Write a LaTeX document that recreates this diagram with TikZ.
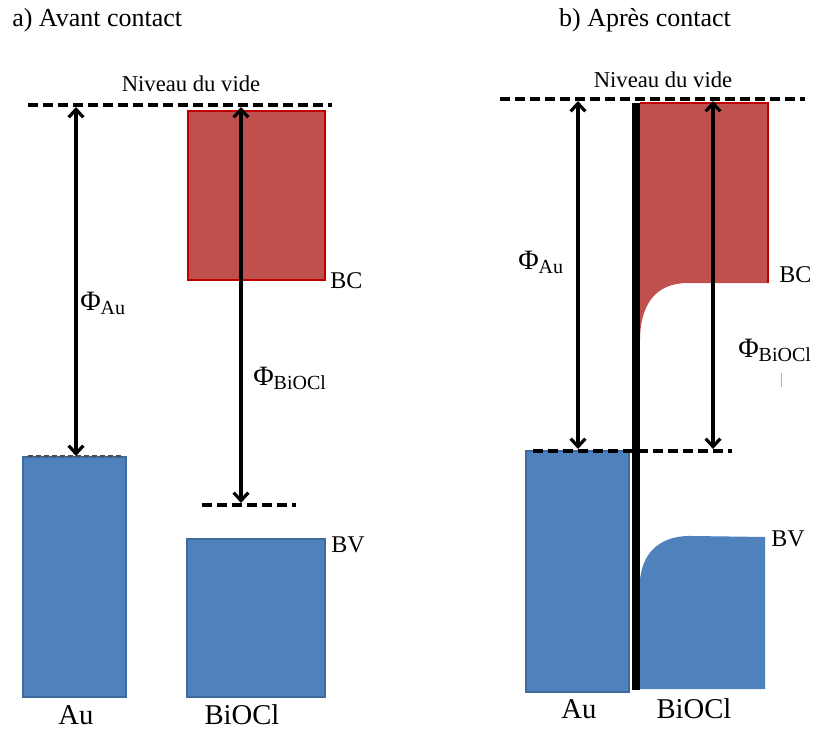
\documentclass[tikz,border=0pt]{standalone}
\usepackage{fontspec}
\setmainfont{Liberation Serif}
\usetikzlibrary{arrows.meta}
\definecolor{bcred}{HTML}{C0504D}
\definecolor{bcedge}{HTML}{C00000}
\definecolor{bvblue}{HTML}{4F81BD}
\definecolor{bvedge}{HTML}{3F6A9E}
\newcommand{\phisub}[1]{{\fontsize{21}{21}\selectfont Φ}\raisebox{-0.3em}{\fontsize{15}{15}\selectfont #1}}

\begin{document}
\begin{tikzpicture}[x=0.75pt,y=-0.75pt,
  level/.style={line width=3pt, dash pattern=on 7.5pt off 3.75pt},
  fermi/.style={line width=0.8pt, black!70, dash pattern=on 4pt off 2pt},
  gaparrow/.style={line width=2.4pt, {Straight Barb[length=6pt,width=11pt]}-{Straight Barb[length=6pt,width=11pt]}},
  bandbc/.style={fill=bcred, draw=bcedge, line width=1.8pt},
  bandbv/.style={fill=bvblue, draw=bvedge, line width=1.2pt},
  txt/.style={inner sep=0pt, font=\fontsize{17}{17}\selectfont},
  title/.style={inner sep=0pt, font=\fontsize{19.5}{19.5}\selectfont},
  matname/.style={inner sep=0pt, font=\fontsize{21.5}{21.5}\selectfont},
  bandname/.style={inner sep=0pt, font=\fontsize{18}{18}\selectfont}]
\useasboundingbox (0,0) rectangle (818,731);

% a) avant contact
\node[title, anchor=base west] (titleA) at (12,27) {a) Avant contact};
\draw[bandbc] (188,111) rectangle (325,280);
\draw[bandbv] (23,457) rectangle (126,697);
\draw[bandbv] (187,539) rectangle (325,697);
\draw[fermi] (28,456) -- (122,456);
\draw[level] (28,105) -- (332,105);
\draw[level] (202,505) -- (296,505);
\node[txt, anchor=base] (videA) at (191,92) {Niveau du vide};
\coordinate (vacAu) at (76,107);
\coordinate (efAu) at (76,456);
\coordinate (vacBi) at (241,107);
\coordinate (efBi) at (241,503);
\draw[gaparrow] (vacAu) -- (efAu);
\draw[gaparrow] (vacBi) -- (efBi);
\node[anchor=west, inner sep=0pt] (phiAuA) at (80,303) {\phisub{Au}};
\node[anchor=west, inner sep=0pt] (phiBiA) at (253,378) {\phisub{BiOCl}};
\node[bandname, anchor=west] (bcA) at (330,281) {BC};
\node[bandname, anchor=west] (bvA) at (331,545) {BV};
\node[matname, anchor=base] (auA) at (76,724) {Au};
\node[matname, anchor=base] (biA) at (242,724) {BiOCl};

% b) apres contact
\node[title, anchor=base] (titleB) at (645,27) {b) Après contact};
\fill[bcred] (640,103) -- (768,103) -- (768,283) -- (688,283)
  .. controls (655,283) and (640,305) .. (640,341) -- cycle;
\draw[bcedge, line width=1.8pt] (640,103) -- (768,103) -- (768,283);
\draw[bandbv] (526,451) rectangle (629,692);
\fill[bvblue] (640,689) -- (640,580) .. controls (643,548) and (665,535) .. (693,536)
  -- (765,537) -- (765,689) -- cycle;
\fill[black] (632,103) rectangle (640,690);
\draw[level] (500,99) -- (805,99);
\draw[level] (533,451) -- (732,451);
\node[txt, anchor=base] (videB) at (663,88) {Niveau du vide};
\coordinate (vacAuB) at (578,101);
\coordinate (efAuB) at (578,449);
\coordinate (vacBiB) at (713,101);
\coordinate (efBiB) at (713,449);
\draw[gaparrow] (vacAuB) -- (efAuB);
\draw[gaparrow] (vacBiB) -- (efBiB);
\node[anchor=west, inner sep=0pt] (phiAuB) at (518,262) {\phisub{Au}};
\node[anchor=west, inner sep=0pt] (phiBiB) at (738,350) {\phisub{BiOCl}};
\draw[gray!60, line width=0.4pt] (781,373) -- (781,387);
\node[bandname, anchor=west] (bcB) at (779,275) {BC};
\node[bandname, anchor=west] (bvB) at (771,539) {BV};
\node[matname, anchor=base] (auB) at (579,718) {Au};
\node[matname, anchor=base] (biB) at (694,718) {BiOCl};
\end{tikzpicture}
\end{document}
